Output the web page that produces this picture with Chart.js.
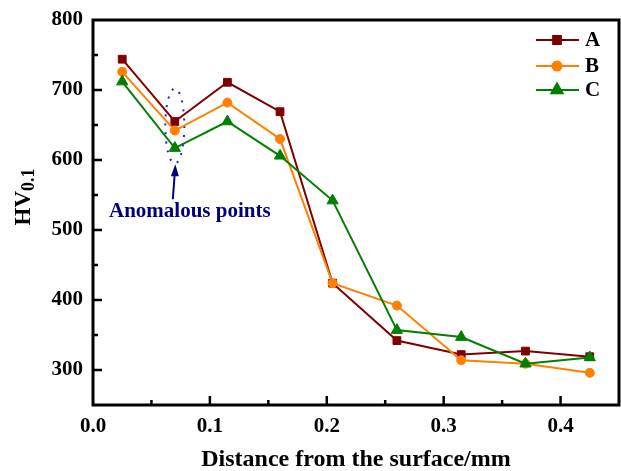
<!DOCTYPE html>
<html><head><meta charset="utf-8">
<script src="https://cdn.jsdelivr.net/npm/chart.js@4.4.1/dist/chart.umd.min.js"></script>
<style>html,body{margin:0;padding:0;background:#fff;}</style>
</head><body>
<canvas id="c" width="621" height="471"></canvas>
<script>
// ---- data ----
const depth = [0.025, 0.07, 0.115, 0.16, 0.205, 0.26, 0.315, 0.37, 0.425];
const seriesA = [744, 655, 711, 669, 424, 342, 322, 327, 319];
const seriesB = [726, 642, 682, 630, 424, 392, 314, 309, 296];
const seriesC = [712, 617, 655, 606, 542, 357, 347, 309, 318];
const seriesNames = ['A', 'B', 'C'];
const xTicks = [0, 0.05, 0.1, 0.15, 0.2, 0.25, 0.3, 0.35, 0.4, 0.45];
const xLabels = ['0.0', '0.1', '0.2', '0.3', '0.4'];
const yTicks = [250, 300, 350, 400, 450, 500, 550, 600, 650, 700, 750, 800];
const yLabels = ['300', '400', '500', '600', '700', '800'];
const xTitle = 'Distance from the surface/mm';
const yTitleMain = 'HV';
const yTitleSub = '0.1';
const noteText = 'Anomalous points';
const noteX = 0.07;            // x of the anomalous points
const noteYRange = [595, 702]; // vertical span of the dotted ellipse
const arrowY = [544, 594];     // arrow tail / tip values

const FONT = "'Liberation Serif', 'Times New Roman', serif";
const colors = ['#800000', '#FF8000', '#008000'];
const styles = ['rect', 'circle', 'triangle'];
const radii = [5.5, 4.5, 6.5];
const values = [seriesA, seriesB, seriesC];

function labelFor(list, v) {
  const i = list.findIndex(l => Math.abs(parseFloat(l) - v) < 1e-9);
  return i >= 0 ? list[i] : '';
}

const decor = {
  id: 'decor',
  beforeDatasetsDraw(chart) {
    const {ctx, scales: {x, y}} = chart;
    const cx = x.getPixelForValue(noteX);
    const yt = y.getPixelForValue(noteYRange[1]);
    const yb = y.getPixelForValue(noteYRange[0]);
    ctx.save();
    ctx.strokeStyle = '#1a1aff';
    ctx.lineWidth = 2;
    ctx.setLineDash([2, 7]);
    ctx.beginPath();
    ctx.ellipse(cx, (yt + yb) / 2, 9.5, (yb - yt) / 2, 0, 0, Math.PI * 2);
    ctx.stroke();
    ctx.restore();
  },
  afterDraw(chart) {
    const {ctx, chartArea: a, scales: {x, y}} = chart;
    ctx.save();
    // frame
    ctx.strokeStyle = '#000';
    ctx.lineWidth = 3;
    ctx.strokeRect(a.left, a.top, a.right - a.left, a.bottom - a.top);
    // inward ticks
    ctx.lineWidth = 2.5;
    ctx.beginPath();
    xTicks.forEach(v => {
      const px = x.getPixelForValue(v);
      if (px <= a.left + 2 || px >= a.right - 2) return;
      const len = labelFor(xLabels, v) ? 9 : 5;
      ctx.moveTo(px, a.bottom); ctx.lineTo(px, a.bottom - len);
    });
    yTicks.forEach(v => {
      const py = y.getPixelForValue(v);
      if (py <= a.top + 2 || py >= a.bottom - 2) return;
      const len = labelFor(yLabels, v) ? 9 : 5;
      ctx.moveTo(a.left, py); ctx.lineTo(a.left + len, py);
    });
    ctx.stroke();

    // x title
    ctx.fillStyle = '#000';
    ctx.font = 'bold 24px ' + FONT;
    ctx.textAlign = 'center';
    ctx.textBaseline = 'middle';
    ctx.fillText(xTitle, (a.left + a.right) / 2, 460);

    // y title with subscript
    ctx.save();
    ctx.translate(22, 197);
    ctx.rotate(-Math.PI / 2);
    ctx.textAlign = 'left';
    ctx.textBaseline = 'alphabetic';
    ctx.font = 'bold 23px ' + FONT;
    const w1 = ctx.measureText(yTitleMain).width;
    ctx.font = 'bold 18px ' + FONT;
    const w2 = ctx.measureText(yTitleSub).width;
    const x0 = -(w1 + w2) / 2;
    ctx.font = 'bold 23px ' + FONT;
    ctx.fillText(yTitleMain, x0, 8);
    ctx.font = 'bold 18px ' + FONT;
    ctx.fillText(yTitleSub, x0 + w1, 12);
    ctx.restore();

    // legend
    const rows = [a.top + 20, a.top + 46, a.top + 70];
    chart.data.datasets.forEach((ds, i) => {
      const ly = rows[i];
      ctx.strokeStyle = ds.borderColor;
      ctx.lineWidth = 2;
      ctx.beginPath();
      ctx.moveTo(a.right - 83, ly); ctx.lineTo(a.right - 40, ly);
      ctx.stroke();
      Chart.helpers.drawPoint(ctx, {pointStyle: ds.pointStyle, radius: ds.pointRadius, borderWidth: 1}, a.right - 62, ly);
      ctx.fillStyle = ds.borderColor;
      ctx.fill();
      ctx.fillStyle = '#000';
      ctx.font = 'bold 21px ' + FONT;
      ctx.textAlign = 'left';
      ctx.textBaseline = 'middle';
      ctx.fillText(ds.label, a.right - 34, ly + 1);
    });

    // arrow
    const ax = x.getPixelForValue(noteX);
    const tailY = y.getPixelForValue(arrowY[0]);
    const tipY = y.getPixelForValue(arrowY[1]);
    ctx.strokeStyle = '#00007f';
    ctx.fillStyle = '#00007f';
    ctx.lineWidth = 2;
    ctx.beginPath();
    ctx.moveTo(ax - 2, tailY); ctx.lineTo(ax, tipY + 8);
    ctx.stroke();
    ctx.beginPath();
    ctx.moveTo(ax + 0.5, tipY);
    ctx.lineTo(ax - 4, tipY + 12);
    ctx.lineTo(ax + 4, tipY + 12);
    ctx.closePath();
    ctx.fill();
    // note text
    ctx.font = 'bold 21px ' + FONT;
    ctx.textAlign = 'left';
    ctx.textBaseline = 'middle';
    ctx.fillText(noteText, a.left + 16, 212);
    ctx.restore();
  }
};

new Chart(document.getElementById('c'), {
  type: 'line',
  data: {
    datasets: values.map((vals, i) => ({
      label: seriesNames[i],
      data: depth.map((d, k) => ({x: d, y: vals[k]})),
      borderColor: colors[i],
      backgroundColor: colors[i],
      pointBackgroundColor: colors[i],
      pointBorderColor: colors[i],
      pointStyle: styles[i],
      pointRadius: radii[i],
      pointBorderWidth: 1,
      borderWidth: 2,
      tension: 0,
      fill: false,
      order: 3 - i
    }))
  },
  options: {
    responsive: false,
    animation: false,
    devicePixelRatio: 1,
    layout: {autoPadding: false, padding: {top: 20, right: 2, left: 0, bottom: 0}},
    plugins: {legend: {display: false}, tooltip: {enabled: false}},
    scales: {
      x: {
        type: 'linear', min: 0, max: 0.45,
        afterBuildTicks: s => { s.ticks = xTicks.map(v => ({value: v})); },
        afterFit: s => { s.height = 66; s.paddingLeft = 0; s.paddingRight = 0; },
        grid: {display: false, drawTicks: false},
        border: {display: false},
        ticks: {
          autoSkip: false, maxRotation: 0, padding: 9, color: '#000',
          font: {family: FONT, weight: 'bold', size: 21},
          callback: v => labelFor(xLabels, v)
        }
      },
      y: {
        type: 'linear', min: 250, max: 800,
        afterBuildTicks: s => { s.ticks = yTicks.map(v => ({value: v})); },
        afterFit: s => { s.width = 93; s.paddingTop = 0; s.paddingBottom = 0; },
        grid: {display: false, drawTicks: false},
        border: {display: false},
        ticks: {
          autoSkip: false, padding: 10, color: '#000',
          font: {family: FONT, weight: 'bold', size: 21},
          callback: v => labelFor(yLabels, v)
        }
      }
    }
  },
  plugins: [decor]
});
</script>
</body></html>
